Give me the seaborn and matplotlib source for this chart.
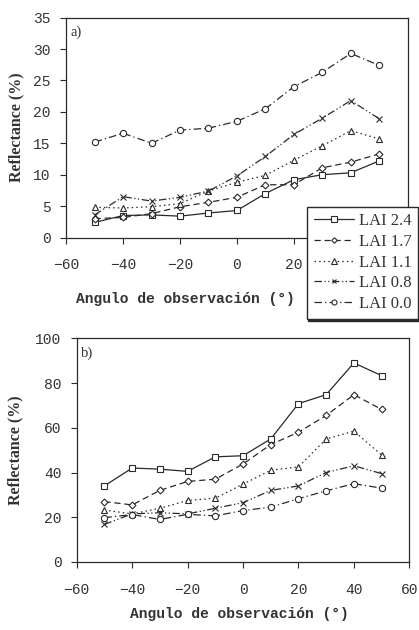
import seaborn as sns
import matplotlib.pyplot as plt
from matplotlib.lines import Line2D

# angulos de observacion
angles = [-50, -40, -30, -20, -10, 0, 10, 20, 30, 40, 50]
labels = ["LAI 2.4", "LAI 1.7", "LAI 1.1", "LAI 0.8", "LAI 0.0"]

# panel a)
lai24_a = [2.4, 3.5, 3.6, 3.4, 3.9, 4.3, 7.0, 9.2, 10.0, 10.3, 12.2]
lai17_a = [3.0, 3.2, 3.8, 4.9, 5.6, 6.4, 8.4, 8.4, 11.1, 12.0, 13.3]
lai11_a = [4.8, 4.7, 4.9, 5.4, 7.4, 8.8, 9.9, 12.3, 14.6, 17.0, 15.7]
lai08_a = [3.6, 6.5, 5.8, 6.4, 7.4, 9.8, 12.9, 16.4, 19.0, 21.8, 18.9]
lai00_a = [15.2, 16.6, 15.0, 17.1, 17.4, 18.5, 20.5, 24.0, 26.3, 29.3, 27.4]

# panel b)
lai24_b = [34.0, 42.0, 41.5, 40.5, 47.0, 47.5, 55.0, 70.8, 74.8, 89.0, 83.3]
lai17_b = [27.0, 25.5, 32.0, 36.0, 37.0, 43.8, 52.5, 58.0, 65.5, 74.8, 68.2]
lai11_b = [23.2, 21.5, 24.0, 27.5, 28.5, 34.8, 41.0, 42.5, 55.0, 58.5, 47.8]
lai08_b = [16.8, 21.5, 22.0, 21.5, 24.0, 26.5, 32.0, 34.0, 40.0, 43.0, 39.5]
lai00_b = [19.8, 21.2, 19.0, 21.3, 20.6, 23.0, 24.5, 28.3, 31.8, 35.0, 33.0]

sns.set_style("ticks")
plt.rcParams["font.family"] = ["Liberation Serif", "DejaVu Serif"]

ink = "#2a2a2a"
txt = "#333333"
mono = ["Liberation Mono", "DejaVu Sans Mono"]
styles = [
    dict(marker="s", linestyle="-", ms=5),
    dict(marker="D", linestyle=(0, (5, 3)), ms=3.5),
    dict(marker="^", linestyle=(0, (1.2, 2.5)), ms=5),
    dict(marker="x", linestyle=(0, (6, 2, 1, 2, 1, 2)), ms=4),
    dict(marker="o", linestyle=(0, (6, 2.5, 1, 2.5)), ms=4.5),
]

fig = plt.figure(figsize=(4.19, 6.3), dpi=100)
ax_a = fig.add_axes([0.158, 0.623, 0.815, 0.349])
ax_b = fig.add_axes([0.183, 0.108, 0.794, 0.355])

panels = [
    (ax_a, [lai24_a, lai17_a, lai11_a, lai08_a, lai00_a], (0, 35), range(0, 36, 5), "a)"),
    (ax_b, [lai24_b, lai17_b, lai11_b, lai08_b, lai00_b], (0, 100), range(0, 101, 20), "b)"),
]

for ax, series, ylim, yticks, tag in panels:
    for vals, st in zip(series, styles):
        sns.lineplot(x=angles, y=vals, ax=ax, color=ink, lw=0.9,
                     marker=st["marker"], linestyle=st["linestyle"], ms=st["ms"],
                     mfc="white", mec=ink, mew=0.8)
    ax.set_xlim(-60, 60)
    ax.set_ylim(*ylim)
    ax.set_xticks(range(-60, 61, 20))
    ax.set_yticks(list(yticks))
    ax.tick_params(direction="out", length=4, width=0.8, color=ink,
                   labelsize=10.5, labelcolor=txt)
    ax.tick_params(axis="x", pad=11)
    ax.tick_params(axis="y", pad=7)
    for lab in ax.get_xticklabels() + ax.get_yticklabels():
        lab.set_family(mono)
    for sp in ax.spines.values():
        sp.set_visible(True)
        sp.set_color(ink)
        sp.set_linewidth(0.9)
    ax.text(0.012, 0.965, tag, transform=ax.transAxes, ha="left", va="top",
            fontsize=10.5, color=txt)
    ax.set_ylabel("Reflectance (%)", fontsize=11.5, fontweight="bold", color=txt)
    ax.set_xlabel("Angulo de observación (°)", fontsize=10.5, fontweight="bold",
                  color=txt, family=mono)

ax_a.yaxis.set_label_coords(-0.121, 0.5)
ax_b.yaxis.set_label_coords(-0.161, 0.5)
ax_a.xaxis.set_label_coords(0.35, -0.25)
ax_b.xaxis.set_label_coords(0.49, -0.2)

handles = [Line2D([], [], color=ink, lw=0.9, marker=st["marker"], linestyle=st["linestyle"],
                  ms=st["ms"] * 0.8, mfc="white", mec=ink, mew=0.8) for st in styles]
leg = fig.legend(handles, labels, loc="upper left", bbox_to_anchor=(0.733, 0.672),
                 frameon=True, fancybox=False, edgecolor=ink, fontsize=12,
                 handlelength=2.4, handletextpad=0.3, labelspacing=0.28,
                 borderpad=0.4, borderaxespad=0,
                 shadow={"ox": 0.6, "oy": -1.4, "color": ink, "alpha": 1})
leg.get_frame().set_linewidth(1.0)
for t in leg.get_texts():
    t.set_color(txt)

fig.savefig("out.png", dpi=100)
